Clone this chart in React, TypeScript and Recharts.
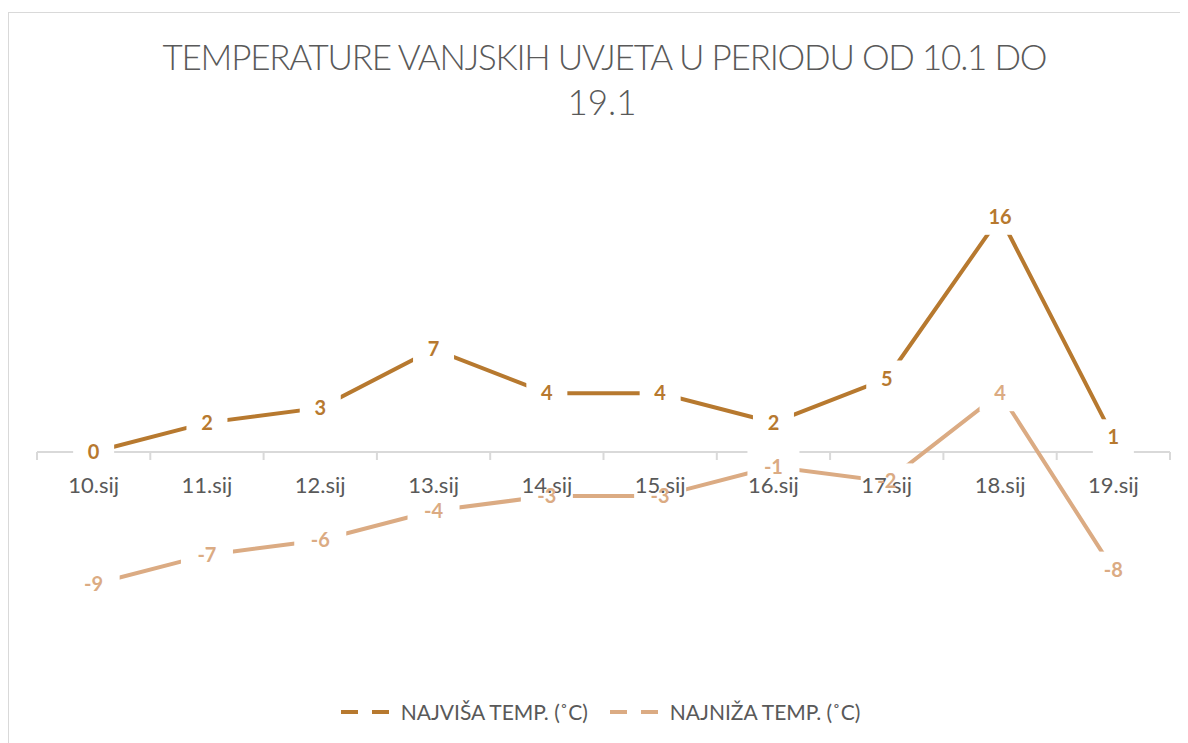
import { LineChart, Line, XAxis, YAxis, ReferenceLine, ReferenceDot } from 'recharts';

const days = ['10.sij', '11.sij', '12.sij', '13.sij', '14.sij', '15.sij', '16.sij', '17.sij', '18.sij', '19.sij'];
const highTemps = [0, 2, 3, 7, 4, 4, 2, 5, 16, 1];
const lowTemps = [-9, -7, -6, -4, -3, -3, -1, -2, 4, -8];
const seriesNames = ['NAJVIŠA TEMP. (˚C)', 'NAJNIŽA TEMP. (˚C)'];
const titleLines = ['TEMPERATURE VANJSKIH UVJETA U PERIODU OD 10.1 DO', '19.1'];
const yDomain: [number, number] = [-10, 20];

const data = days.map((day, i) => ({ day, high: highTemps[i], low: lowTemps[i] }));

const HIGH_COLOR = '#B7792F';
const LOW_COLOR = '#DBAB83';
const TEXT_COLOR = '#595959';
const AXIS_COLOR = '#D9D9D9';
const FONT = 'Lato, "Open Sans", sans-serif';

const CHART_W = 1179;
const CHART_H = 730;
const margin = { top: 145, right: 18, bottom: 144, left: 28 };
const band = (CHART_W - margin.left - margin.right) / days.length;

// white box under each data label, drawn as the series "dot" so the axis text can sit above it
function labelMask(props: any) {
  const { cx, cy, value, index } = props;
  if (cx == null || cy == null) return null;
  const w = String(value).length * 11 + 30;
  return <rect key={index} x={cx - w / 2} y={cy - 18} width={w} height={36} fill="#fff" />;
}

function pointLabel(color: string) {
  return (props: any) => {
    const { x, y, value } = props;
    if (x == null || y == null) return null;
    return (
      <text x={x} y={y} dy={7} textAnchor="middle" fill={color} fontFamily={FONT} fontWeight={700} fontSize={20}>
        {value}
      </text>
    );
  };
}

function categoryTick(label: string, last: boolean) {
  return (props: any) => {
    const { cx, cy } = props;
    return (
      <g>
        <line x1={cx - band / 2} x2={cx - band / 2} y1={cy} y2={cy + 8} stroke={AXIS_COLOR} strokeWidth={2} />
        {last && (
          <line x1={cx + band / 2} x2={cx + band / 2} y1={cy} y2={cy + 8} stroke={AXIS_COLOR} strokeWidth={2} />
        )}
        <text x={cx} y={cy + 41} textAnchor="middle" fill={TEXT_COLOR} fontFamily={FONT} fontSize={22}>
          {label}
        </text>
      </g>
    );
  };
}

function LegendItem({ color, name }: { color: string; name: string }) {
  return (
    <div style={{ display: 'flex', alignItems: 'center' }}>
      <svg width={60} height={10}>
        <line x1={0} x2={50} y1={5} y2={5} stroke={color} strokeWidth={4} strokeDasharray="17 14" />
      </svg>
      <span style={{ fontFamily: FONT, fontSize: 21, color: TEXT_COLOR }}>{name}</span>
    </div>
  );
}

export default function App() {
  return (
    <div
      style={{
        position: 'relative',
        width: CHART_W + 1,
        height: CHART_H + 1,
        marginTop: 4,
        borderLeft: `1px solid ${AXIS_COLOR}`,
        borderTop: `1px solid ${AXIS_COLOR}`,
        boxSizing: 'border-box',
        background: '#fff',
      }}
    >
      <svg width={CHART_W} height={120} style={{ position: 'absolute', left: 0, top: 0 }}>
        <text
          x={596}
          y={57}
          textAnchor="middle"
          fill={TEXT_COLOR}
          fontFamily={FONT}
          fontWeight={300}
          fontSize={35}
          textLength={885}
          lengthAdjust="spacing"
        >
          {titleLines[0]}
        </text>
        <text x={593} y={102} textAnchor="middle" fill={TEXT_COLOR} fontFamily={FONT} fontWeight={300} fontSize={35}>
          {titleLines[1]}
        </text>
      </svg>
      <LineChart width={CHART_W} height={CHART_H} data={data} margin={margin}>
        <XAxis dataKey="day" hide padding={{ left: band / 2, right: band / 2 }} />
        <YAxis domain={yDomain} hide />
        <ReferenceLine y={0} stroke={AXIS_COLOR} strokeWidth={2} ifOverflow="visible" />
        <Line
          dataKey="high"
          name={seriesNames[0]}
          stroke={HIGH_COLOR}
          strokeWidth={4}
          dot={labelMask}
          activeDot={false}
          isAnimationActive={false}
          label={pointLabel(HIGH_COLOR)}
        />
        <Line
          dataKey="low"
          name={seriesNames[1]}
          stroke={LOW_COLOR}
          strokeWidth={4}
          dot={labelMask}
          activeDot={false}
          isAnimationActive={false}
          label={pointLabel(LOW_COLOR)}
        />
        {days.map((day, i) => (
          <ReferenceDot
            key={day}
            x={day}
            y={0}
            ifOverflow="visible"
            shape={categoryTick(day, i === days.length - 1)}
          />
        ))}
      </LineChart>
      <div
        style={{
          position: 'absolute',
          top: 686,
          left: 2,
          width: CHART_W,
          display: 'flex',
          justifyContent: 'center',
          gap: 22,
        }}
      >
        <LegendItem color={HIGH_COLOR} name={seriesNames[0]} />
        <LegendItem color={LOW_COLOR} name={seriesNames[1]} />
      </div>
    </div>
  );
}
